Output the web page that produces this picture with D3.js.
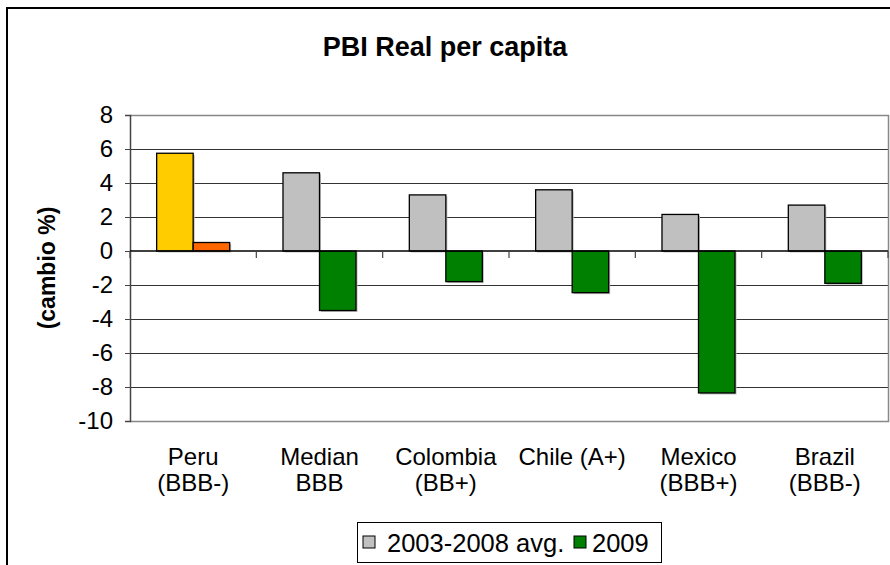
<!DOCTYPE html>
<html>
<head>
<meta charset="utf-8">
<script src="https://cdn.jsdelivr.net/npm/d3@7"></script>
<style>
  body { margin: 0; background: #fff; }
  text { font-family: Arial, "Liberation Sans", sans-serif; fill: #000; }
</style>
</head>
<body>
<svg id="chart" width="890" height="565"></svg>
<script>
    // datos
    var categories = ["Peru (BBB-)", "Median BBB", "Colombia (BB+)", "Chile (A+)", "Mexico (BBB+)", "Brazil (BBB-)"];
    var catLines = [["Peru", "(BBB-)"], ["Median", "BBB"], ["Colombia", "(BB+)"], ["Chile (A+)"], ["Mexico", "(BBB+)"], ["Brazil", "(BBB-)"]];
    var seriesNames = ["2003-2008 avg.", "2009"];
    var avg0308 = [5.75, 4.6, 3.3, 3.6, 2.15, 2.7];
    var y2009 = [0.5, -3.5, -1.8, -2.45, -8.35, -1.9];
    var yTicks = [-10, -8, -6, -4, -2, 0, 2, 4, 6, 8];

    var seriesColors = ["#C0C0C0", "#008000"];
    var peruColors = ["#FFCC00", "#FF6600"]; // Peru resaltado

    var svg = d3.select("#chart"),
        pLeft = 130, pRight = 888, pTop = 115, pBottom = 421;

    // marco exterior
    svg.append("rect")
        .attr("x", 7).attr("y", 8)
        .attr("width", 900).attr("height", 600)
        .attr("fill", "none")
        .attr("stroke", "#000")
        .attr("stroke-width", 2);

    var x = d3.scaleBand().domain(categories).range([pLeft, pRight]);
    var xs = d3.scaleBand().domain(seriesNames).range([0, x.bandwidth()]).paddingOuter(0.73);
    var y = d3.scaleLinear().domain([-10, 8]).range([pBottom, pTop]);

    // lineas de grilla
    svg.append("g")
        .selectAll("line")
        .data(yTicks.filter(function (d) { return d !== 0 && d !== -10; }))
        .enter()
        .append("line")
        .attr("x1", pLeft).attr("x2", pRight)
        .attr("y1", function (d) { return Math.round(y(d)) + 0.5; })
        .attr("y2", function (d) { return Math.round(y(d)) + 0.5; })
        .style("stroke", "#333")
        .style("stroke-width", 1);

    // borde del area de trazado
    svg.append("path")
        .attr("d", "M" + pLeft + "," + (pTop + 0.5) + "H" + (pRight + 0.5) + "V" + (pBottom + 0.5) + "H" + pLeft)
        .attr("fill", "none")
        .style("stroke", "#888")
        .style("stroke-width", 1.5);

    var data = [];
    categories.forEach(function (c, i) {
        data.push({cat: c, s: seriesNames[0], v: avg0308[i], i: i, k: 0});
        data.push({cat: c, s: seriesNames[1], v: y2009[i], i: i, k: 1});
    });

    function barColor(d) {
        return d.i === 0 ? peruColors[d.k] : seriesColors[d.k];
    }

    var bars = svg.append("g").selectAll("g")
        .data(data)
        .enter()
        .append("g");

    // sombra
    bars.append("rect")
        .attr("x", function (d) { return x(d.cat) + xs(d.s) + 1.5; })
        .attr("y", function (d) { return Math.min(y(d.v), y(0)) + 1.5; })
        .attr("width", xs.bandwidth())
        .attr("height", function (d) { return Math.abs(y(d.v) - y(0)); })
        .style("fill", "#bbb");

    bars.append("rect")
        .attr("x", function (d) { return x(d.cat) + xs(d.s); })
        .attr("y", function (d) { return Math.min(y(d.v), y(0)); })
        .attr("width", xs.bandwidth())
        .attr("height", function (d) { return Math.abs(y(d.v) - y(0)); })
        .style("fill", barColor)
        .style("stroke", "#000")
        .style("stroke-width", 1.3);

    // eje y (guion normal, no signo menos)
    var yAxis = d3.axisLeft(y).tickValues(yTicks).tickSize(5).tickPadding(12)
        .tickFormat(function (d) { return String(d); });
    var gy = svg.append("g")
        .attr("transform", "translate(" + pLeft + ",0)")
        .call(yAxis);
    gy.select(".domain").style("stroke", "#444").style("stroke-width", 1.5);
    gy.selectAll(".tick line").style("stroke", "#444");
    gy.selectAll("text")
        .style("font-size", "24px")
        .style("font-family", "Arial, 'Liberation Sans', sans-serif")
        .attr("fill", "#000");

    // linea cero con marcas
    var gx = svg.append("g")
        .attr("transform", "translate(0," + y(0) + ")");
    gx.append("line")
        .attr("x1", pLeft).attr("x2", pRight)
        .style("stroke", "#000").style("stroke-width", 1.3);
    gx.selectAll(".tk")
        .data(categories.concat(["end"]))
        .enter()
        .append("line")
        .attr("class", "tk")
        .attr("x1", function (d) { return d === "end" ? pRight : x(d); })
        .attr("x2", function (d) { return d === "end" ? pRight : x(d); })
        .attr("y1", 0).attr("y2", 7)
        .style("stroke", "#444").style("stroke-width", 1.2);

    // etiquetas de categoria
    var lab = svg.append("g").selectAll("text")
        .data(catLines)
        .enter()
        .append("text")
        .attr("text-anchor", "middle")
        .attr("x", function (d, i) { return x(categories[i]) + x.bandwidth() / 2; })
        .attr("y", 465)
        .style("font-size", "24px");
    lab.selectAll("tspan")
        .data(function (d) { return d; })
        .enter()
        .append("tspan")
        .attr("x", function () { return d3.select(this.parentNode).attr("x"); })
        .attr("dy", function (d, j) { return j === 0 ? 0 : 26; })
        .text(function (d) { return d; });

    // titulo
    svg.append("text")
        .attr("x", 445).attr("y", 56)
        .attr("text-anchor", "middle")
        .style("font-size", "27px")
        .style("font-weight", "bold")
        .text("PBI Real per capita");

    // titulo eje y
    svg.append("text")
        .attr("transform", "translate(55,268) rotate(-90)")
        .attr("text-anchor", "middle")
        .style("font-size", "23px")
        .style("font-weight", "bold")
        .text("(cambio %)");

    // leyenda
    var lg = svg.append("g").attr("transform", "translate(357,522)");
    lg.append("rect")
        .attr("x", 0.5).attr("y", 0.5)
        .attr("width", 304).attr("height", 40)
        .attr("fill", "#fff")
        .style("stroke", "#000");
    var items = [{name: seriesNames[0], x: 6, tx: 30}, {name: seriesNames[1], x: 217, tx: 235}];
    items.forEach(function (it, k) {
        lg.append("rect")
            .attr("x", it.x).attr("y", 14)
            .attr("width", 12).attr("height", 12)
            .style("fill", seriesColors[k])
            .style("stroke", "#000");
        lg.append("text")
            .attr("x", it.tx).attr("y", 30)
            .style("font-size", "25.5px")
            .text(it.name);
    });
</script>
</body>
</html>
